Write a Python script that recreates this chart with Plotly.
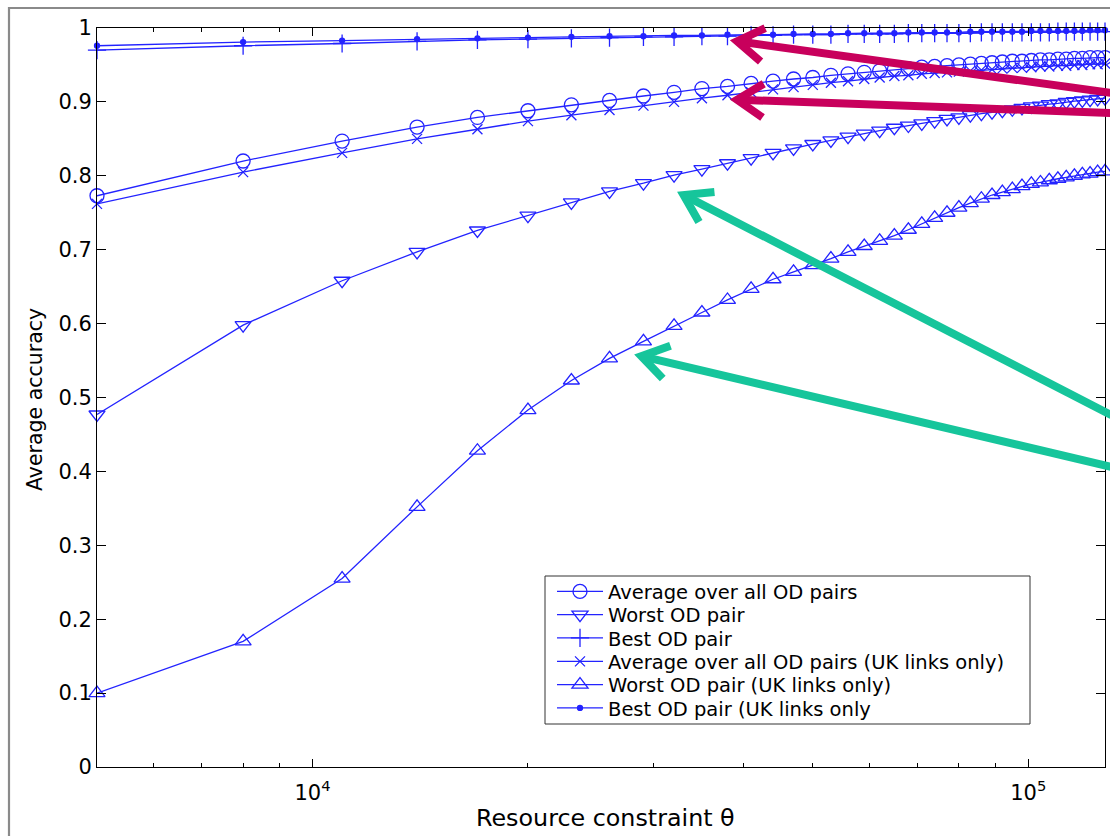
import math
import plotly.graph_objects as go

# ---------------- data ----------------
theta = [5000, 8000, 11000, 14000, 17000, 20000, 23000, 26000, 29000, 32000,
         35000, 38000, 41000, 44000, 47000, 50000, 53000, 56000, 59000, 62000,
         65000, 68000, 71000, 74000, 77000, 80000, 83000, 86000, 89000, 92000,
         95000, 98000, 101000, 104000, 107000, 110000, 113000, 116000, 119000,
         122000, 125000, 128000]

avg_all = [.773, .820, .847, .866, .879, .888, .896, .902, .908, .913,
           .918, .921, .925, .928, .931, .933, .936, .938, .940, .942,
           .944, .945, .947, .948, .949, .950, .951, .952, .953, .954,
           .955, .955, .956, .957, .957, .958, .958, .959, .959, .960,
           .960, .960]

worst = [.477, .598, .658, .697, .726, .746, .764, .779, .790, .801,
         .809, .817, .824, .831, .837, .843, .848, .853, .857, .861,
         .865, .868, .871, .874, .877, .879, .882, .884, .886, .888,
         .890, .892, .894, .895, .897, .898, .900, .901, .902, .903,
         .904, .905]

best = [.970, .976, .979, .982, .984, .985, .986, .987, .988, .988,
        .989, .989, .990, .990, .991, .991, .991, .992, .992, .992,
        .992, .993, .993, .993, .993, .993, .993, .994, .994, .994,
        .994, .994, .994, .994, .994, .995, .995, .995, .995, .995,
        .995, .995]

avg_uk = [.762, .805, .831, .850, .863, .874, .882, .889, .895, .900,
          .905, .909, .913, .917, .920, .923, .926, .928, .931, .933,
          .935, .936, .938, .939, .940, .941, .942, .943, .944, .945,
          .946, .946, .947, .948, .948, .949, .949, .950, .950, .951,
          .951, .952]

worst_uk = [.100, .170, .255, .352, .428, .483, .523, .553, .576, .597,
            .615, .632, .647, .660, .670, .679, .688, .697, .705, .712,
            .719, .727, .735, .743, .750, .757, .763, .769, .774, .778,
            .782, .786, .789, .791, .794, .796, .798, .800, .802, .803,
            .805, .806]

best_uk = [.976, .981, .983, .985, .986, .987, .988, .989, .989, .990,
           .990, .991, .991, .991, .992, .992, .992, .993, .993, .993,
           .993, .994, .994, .994, .994, .994, .995, .995, .995, .995,
           .995, .995, .996, .996, .996, .996, .996, .996, .996, .997,
           .997, .997]

series_names = ["Average over all OD pairs", "Worst OD pair", "Best OD pair",
                "Average over all OD pairs (UK links only)",
                "Worst OD pair (UK links only)", "Best OD pair (UK links only"]

y_ticks = [0, 0.1, 0.2, 0.3, 0.4, 0.5, 0.6, 0.7, 0.8, 0.9, 1]
y_tick_text = ["0", "0.1", "0.2", "0.3", "0.4", "0.5", "0.6", "0.7", "0.8", "0.9", "1"]
x_major = [1e4, 1e5]
x_major_text = ["10<sup>4</sup>", "10<sup>5</sup>"]
x_minor = [6000, 7000, 8000, 9000, 20000, 30000, 40000, 50000, 60000, 70000,
           80000, 90000]

# arrows: tip in data units (theta, accuracy), tail in paper units
arrows = [
    dict(tip=(39200, 0.982), tail=(1.0065, 0.912), color="#c8005c"),
    dict(tip=(39200, 0.903), tail=(1.0065, 0.885), color="#c8005c"),
    dict(tip=(33000, 0.774), tail=(1.0065, 0.476), color="#16c59b"),
    dict(tip=(28800, 0.556), tail=(1.0065, 0.406), color="#16c59b"),
]

# ---------------- layout constants ----------------
W, H = 1110, 836
ML, MR, MT, MB = 97, 5, 28, 69
PW, PH = W - ML - MR, H - MT - MB
XR = [math.log10(theta[0]), math.log10(theta[-1])]

BLUE = "rgb(35,35,255)"
FONT = "DejaVu Sans, Verdana, sans-serif"


def px_x(p):
    return (p - ML) / PW


def px_y(p):
    return (MT + PH - p) / PH


fig = go.Figure()

specs = [
    (avg_all, "circle-open", 14),
    (worst, "triangle-down-open", 14),
    (best, "cross-thin-open", 13),
    (avg_uk, "x-thin-open", 10),
    (worst_uk, "triangle-up-open", 14),
    (best_uk, "circle", 5),
]
legend_rows = [591.7, 615.0, 638.3, 661.7, 685.0, 708.3]
legend_ids = ["legend", "legend2", "legend3", "legend4", "legend5", "legend6"]

for name, (vals, sym, size), lid in zip(series_names, specs, legend_ids):
    fig.add_trace(go.Scatter(
        x=theta, y=vals, name=name, mode="lines+markers",
        line=dict(color=BLUE, width=1.3),
        marker=dict(symbol=sym, size=size, color=BLUE,
                    line=dict(color=BLUE, width=1.3)),
        cliponaxis=False, legend=lid,
    ))


def to_paper(xv, yv):
    px = (math.log10(xv) - XR[0]) / (XR[1] - XR[0])
    return px, yv


shapes = []
# outer grey frame of the original figure
shapes.append(dict(type="rect", xref="paper", yref="paper",
                   x0=px_x(9), x1=px_x(W + 20), y0=px_y(H + 20), y1=px_y(8),
                   line=dict(color="#8a8a8a", width=2.2), layer="below"))
# legend box
shapes.append(dict(type="rect", xref="paper", yref="paper",
                   x0=px_x(545), x1=px_x(1030), y0=px_y(724), y1=px_y(576),
                   line=dict(color="#333", width=1), fillcolor="white",
                   layer="below"))

for a in arrows:
    tx, ty = to_paper(*a["tip"])
    sx, sy = a["tail"]
    dxp, dyp = (sx - tx) * PW, (sy - ty) * PH
    L = math.hypot(dxp, dyp)
    ux, uy = dxp / L, dyp / L
    arm = 31
    ang = math.radians(33)
    pts = []
    for s in (1, -1):
        c, si = math.cos(s * ang), math.sin(s * ang)
        rx, ry = ux * c - uy * si, ux * si + uy * c
        pts.append((tx + rx * arm / PW, ty + ry * arm / PH))
    shapes.append(dict(type="line", xref="paper", yref="paper",
                       x0=sx, y0=sy, x1=tx + ux * 2 / PW, y1=ty + uy * 2 / PH,
                       line=dict(color=a["color"], width=8)))
    path = "M{:.5f},{:.5f} L{:.5f},{:.5f} L{:.5f},{:.5f}".format(
        pts[0][0], pts[0][1], tx, ty, pts[1][0], pts[1][1])
    shapes.append(dict(type="path", xref="paper", yref="paper", path=path,
                       line=dict(color=a["color"], width=8)))

annotations = [
    dict(text="Resource constraint θ", xref="paper", yref="paper",
         x=px_x(605), y=px_y(818), showarrow=False,
         xanchor="center", yanchor="middle",
         font=dict(family=FONT, size=23.8, color="black")),
    dict(text="Average accuracy", xref="paper", yref="paper",
         x=px_x(35), y=px_y(400), showarrow=False,
         textangle=-90, xanchor="center", yanchor="middle",
         font=dict(family=FONT, size=20.5, color="black")),
]

legend_layout = {}
for lid, row in zip(legend_ids, legend_rows):
    legend_layout[lid] = dict(
        x=px_x(552), y=px_y(row), xanchor="left", yanchor="middle",
        bgcolor="rgba(0,0,0,0)", borderwidth=0, itemwidth=46,
        font=dict(family=FONT, size=19.5, color="black"))

fig.update_layout(
    width=W, height=H,
    margin=dict(l=ML, r=MR, t=MT, b=MB, pad=0),
    paper_bgcolor="white", plot_bgcolor="white",
    showlegend=True,
    shapes=shapes,
    annotations=annotations,
    font=dict(family=FONT, color="black"),
    **legend_layout,
)

fig.update_xaxes(
    type="log", range=XR, showgrid=False, zeroline=False,
    showline=True, linecolor="black", linewidth=1, mirror="ticks",
    ticks="inside", ticklen=8, tickcolor="black", tickwidth=1,
    tickmode="array", tickvals=x_major, ticktext=x_major_text,
    ticklabelstandoff=7,
    tickfont=dict(family=FONT, size=21, color="black"),
    minor=dict(tickmode="array", tickvals=x_minor, ticks="inside",
               ticklen=4, tickcolor="black", tickwidth=1, showgrid=False),
)
fig.update_yaxes(
    range=[0, 1], showgrid=False, zeroline=False,
    showline=True, linecolor="black", linewidth=1, mirror="ticks",
    ticks="inside", ticklen=9, tickcolor="black", tickwidth=1,
    tickmode="array", tickvals=y_ticks, ticktext=y_tick_text,
    tickfont=dict(family=FONT, size=21, color="black"),
)

fig.write_html("out.html")
